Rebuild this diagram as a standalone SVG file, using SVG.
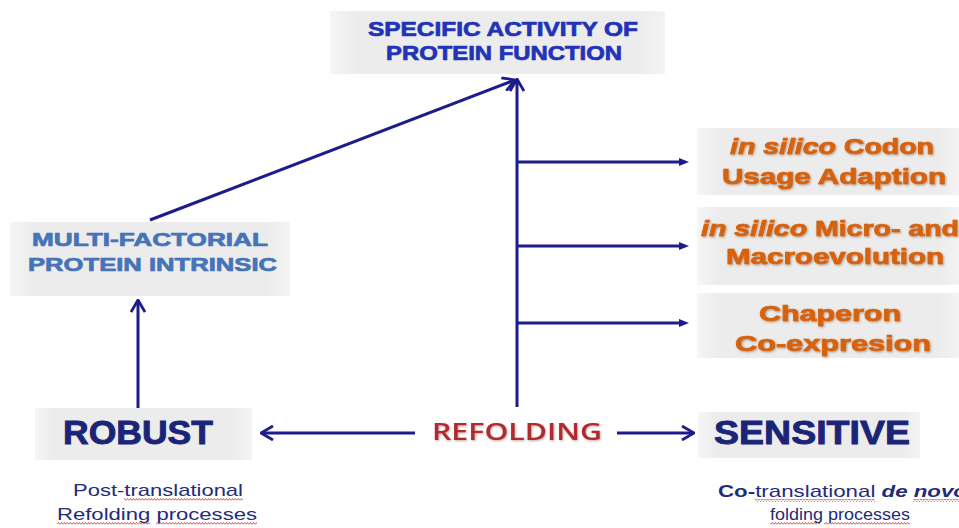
<svg xmlns="http://www.w3.org/2000/svg" width="959" height="528" viewBox="0 0 959 528">
<defs>
<style>
.box{fill:url(#boxg);}
.t{font-family:"Liberation Sans",Arial,sans-serif;font-weight:bold;}
.top{fill:#2233b8;stroke:#2233b8;stroke-width:0.7;font-size:20px;}
.multi{fill:#4574b8;stroke:#4574b8;stroke-width:0.7;font-size:19px;}
.big{fill:#1b2578;stroke:#1b2578;stroke-width:0.9;font-size:33px;}
.orange{fill:#d6620e;stroke:#d6620e;stroke-width:0.7;font-size:22px;filter:url(#osh);}
.refold{font-family:"Open Sans","Liberation Sans",sans-serif;font-weight:600;fill:#b02a2e;font-size:24px;filter:url(#rsh);}
.note{font-family:"Liberation Sans",Arial,sans-serif;fill:#1f2c7a;font-size:17px;}
.conn{stroke:#1c1c8c;stroke-width:3;fill:none;}
.wavy{fill:url(#wv);}
</style>
<linearGradient id="boxg" x1="0" y1="0" x2="1" y2="0">
<stop offset="0" stop-color="#f6f6f6"/>
<stop offset="0.08" stop-color="#ececec"/>
<stop offset="0.92" stop-color="#ececec"/>
<stop offset="1" stop-color="#f4f4f4"/>
</linearGradient>
<filter id="osh" x="-10%" y="-30%" width="120%" height="160%">
<feDropShadow dx="1" dy="1" stdDeviation="0.8" flood-color="#7a3a10" flood-opacity="0.5"/>
</filter>
<filter id="rsh" x="-10%" y="-30%" width="120%" height="160%">
<feDropShadow dx="0.8" dy="1" stdDeviation="0.8" flood-color="#602020" flood-opacity="0.4"/>
</filter>
<pattern id="wv" width="3" height="3" patternUnits="userSpaceOnUse">
<polyline points="0,2.5 1.5,0.5 3,2.5" fill="none" stroke="#d03030" stroke-width="0.8"/>
</pattern>
<marker id="open" viewBox="0 0 14 16" refX="13" refY="8" markerWidth="14" markerHeight="16" markerUnits="userSpaceOnUse" orient="auto">
<path d="M1,1 L13,8 L1,15" fill="none" stroke="#1c1c8c" stroke-width="2.8"/>
</marker>
<marker id="tri" viewBox="0 0 10 8" refX="1" refY="4" markerWidth="10" markerHeight="8" markerUnits="userSpaceOnUse" orient="auto">
<path d="M0,0 L10,4 L0,8 Z" fill="#1c1c8c"/>
</marker>
</defs>
<rect width="959" height="528" fill="#ffffff"/>

<g id="connectors">
<line class="conn" x1="150" y1="220" x2="515" y2="80" marker-end="url(#open)"/>
<line class="conn" x1="517" y1="407" x2="517" y2="79" marker-end="url(#open)"/>
<line class="conn" x1="517" y1="162" x2="680" y2="162" marker-end="url(#tri)"/>
<line class="conn" x1="517" y1="246" x2="680" y2="246" marker-end="url(#tri)"/>
<line class="conn" x1="517" y1="323" x2="680" y2="323" marker-end="url(#tri)"/>
<line class="conn" x1="138" y1="408" x2="138" y2="300" marker-end="url(#open)"/>
<line class="conn" x1="415" y1="433" x2="261" y2="433" marker-end="url(#open)"/>
<line class="conn" x1="617" y1="433" x2="694" y2="433" marker-end="url(#open)"/>
</g>

<g id="specific-activity">
<rect class="box" x="330" y="11" width="335" height="63"/>
<text class="t top" x="368" y="36" textLength="270" lengthAdjust="spacingAndGlyphs">SPECIFIC ACTIVITY OF</text>
<text class="t top" x="386" y="60" textLength="236" lengthAdjust="spacingAndGlyphs">PROTEIN FUNCTION</text>
</g>

<g id="multi-factorial">
<rect class="box" x="10" y="222" width="280" height="74"/>
<text class="t multi" x="32" y="246" textLength="236" lengthAdjust="spacingAndGlyphs">MULTI-FACTORIAL</text>
<text class="t multi" x="28" y="271" textLength="249" lengthAdjust="spacingAndGlyphs">PROTEIN INTRINSIC</text>
</g>

<g id="codon">
<rect class="box" x="697" y="128" width="262" height="67"/>
<text class="t orange" x="730" y="154" textLength="204" lengthAdjust="spacingAndGlyphs"><tspan font-style="italic">in silico</tspan> Codon</text>
<text class="t orange" x="722" y="184" textLength="224" lengthAdjust="spacingAndGlyphs">Usage Adaption</text>
</g>

<g id="evolution">
<rect class="box" x="697" y="207" width="262" height="78"/>
<text class="t orange" x="701" y="236" textLength="258" lengthAdjust="spacingAndGlyphs"><tspan font-style="italic">in silico</tspan> Micro- and</text>
<text class="t orange" x="726" y="264" textLength="218" lengthAdjust="spacingAndGlyphs">Macroevolution</text>
</g>

<g id="chaperon">
<rect class="box" x="697" y="293" width="262" height="65"/>
<text class="t orange" x="759" y="321" textLength="142" lengthAdjust="spacingAndGlyphs">Chaperon</text>
<text class="t orange" x="735" y="351" textLength="196" lengthAdjust="spacingAndGlyphs">Co-expresion</text>
</g>

<g id="robust">
<rect class="box" x="35" y="408" width="217" height="52"/>
<text class="t big" x="63" y="444" textLength="150" lengthAdjust="spacingAndGlyphs">ROBUST</text>
</g>

<g id="refolding">
<text class="refold" x="432" y="440" textLength="170" lengthAdjust="spacingAndGlyphs">REFOLDING</text>
</g>

<g id="sensitive">
<rect class="box" x="698" y="412" width="222" height="46"/>
<text class="t big" x="714" y="444" textLength="196" lengthAdjust="spacingAndGlyphs">SENSITIVE</text>
</g>

<g id="post-translational">
<text class="note" x="73" y="496" textLength="170" lengthAdjust="spacingAndGlyphs">Post-translational</text>
<text class="note" x="57" y="520" textLength="200" lengthAdjust="spacingAndGlyphs">Refolding processes</text>
<rect class="wavy" x="124" y="498" width="119" height="3"/>
<rect class="wavy" x="57" y="522" width="93" height="3"/>
<rect class="wavy" x="156" y="522" width="101" height="3"/>
</g>

<g id="co-translational">
<text class="note" x="718" y="497" textLength="249" lengthAdjust="spacingAndGlyphs"><tspan font-weight="bold">Co-</tspan>translational <tspan font-weight="bold" font-style="italic">de novo</tspan></text>
<text class="note" x="770" y="520" textLength="140" lengthAdjust="spacingAndGlyphs">folding processes</text>
<rect class="wavy" x="755" y="499" width="120" height="3"/>
<rect class="wavy" x="913" y="499" width="46" height="3"/>
<rect class="wavy" x="770" y="522" width="50" height="3"/>
<rect class="wavy" x="824" y="522" width="86" height="3"/>
</g>
</svg>
